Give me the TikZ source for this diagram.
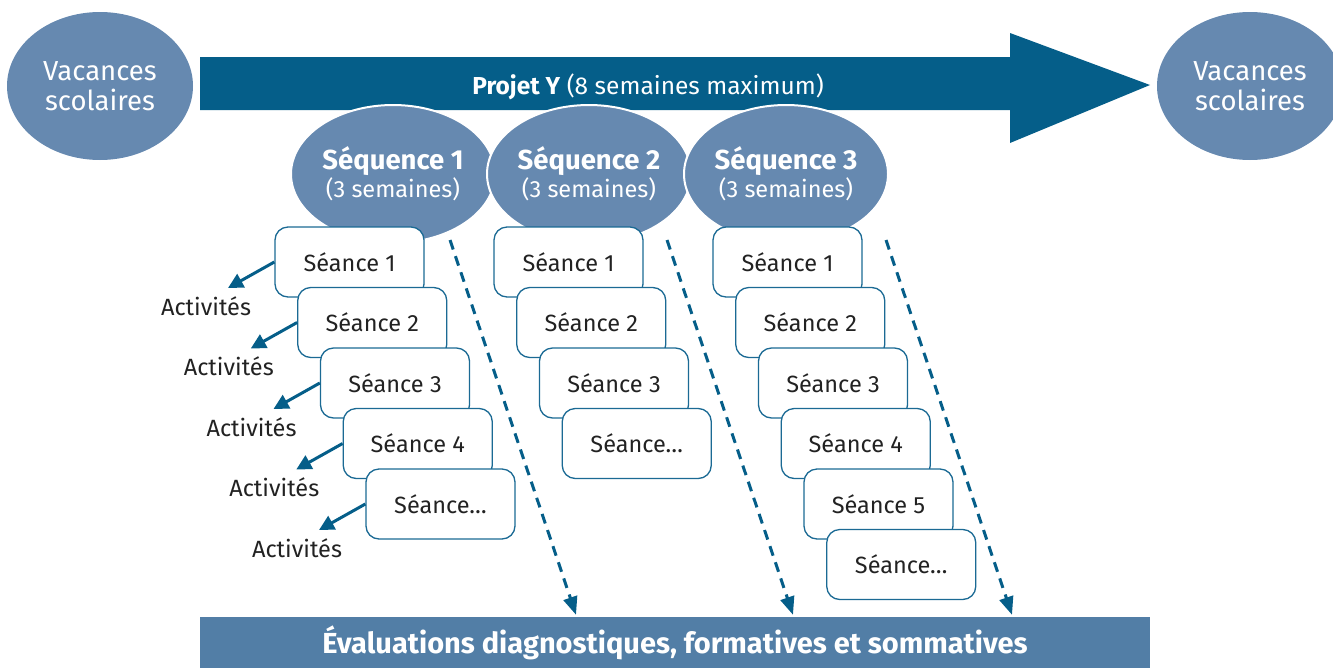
\documentclass[tikz,border=0pt]{standalone}
\usepackage{fontspec}
\setmainfont{Fira Sans}
\usetikzlibrary{shapes.geometric,arrows.meta,calc}
\definecolor{darkblue}{HTML}{055E89}
\definecolor{midblue}{HTML}{6689B0}
\definecolor{barblue}{HTML}{527EA6}
\definecolor{boxline}{HTML}{1B6A94}
\definecolor{txt}{HTML}{222222}
\tikzset{
  vac/.style={ellipse,fill=midblue,minimum width=186pt,minimum height=148pt,inner sep=0pt,text=white,align=center,font=\fontsize{27.5}{30}\selectfont},
  seq/.style={ellipse,fill=midblue,draw=white,line width=2pt,minimum width=204pt,minimum height=138pt,inner sep=0pt,text=white,align=center,font=\fontsize{23.5}{28}\selectfont},
  seance/.style={rectangle,rounded corners=13pt,draw=boxline,line width=1.3pt,fill=white,minimum width=149pt,minimum height=70pt,inner sep=0pt,text=txt,font=\fontsize{23.5}{26}\selectfont},
  act/.style={text=txt,font=\fontsize{23.5}{26}\selectfont,inner sep=0pt},
  actarrow/.style={draw=darkblue,line width=3pt,-{Triangle[length=15pt,width=15pt]}},
  dasharrow/.style={draw=darkblue,line width=3pt,dash pattern=on 10pt off 7pt,-{Triangle[length=18pt,width=14pt]}},
}
\begin{document}
\begin{tikzpicture}[x=1pt,y=-1pt]
\useasboundingbox (0,0) rectangle (1333,667);
% big arrow
\fill[darkblue] (200,57) -- (1010,57) -- (1010,33) -- (1150,85) -- (1010,143) -- (1010,110) -- (200,110) -- cycle;
\node[text=white,font=\fontsize{24.5}{28}\selectfont,inner sep=0pt] (projet) at (648,87) {\textbf{Projet Y} (8 semaines maximum)};
% vacances
\node[vac] (vacL) at (100,86) {Vacances\\scolaires};
\node[vac] (vacR) at (1250,86) {Vacances\\scolaires};
% sequences
\node[seq] (seq1) at (393,174) {\textbf{\fontsize{27.5}{30}\selectfont Séquence 1}\\(3 semaines)};
\node[seq] (seq2) at (589,174) {\textbf{\fontsize{27.5}{30}\selectfont Séquence 2}\\(3 semaines)};
\node[seq] (seq3) at (786,174) {\textbf{\fontsize{27.5}{30}\selectfont Séquence 3}\\(3 semaines)};
% eval bar
\node[rectangle,fill=barblue,minimum width=950pt,minimum height=52pt,inner sep=0pt,text=white,font=\bfseries\fontsize{29}{32}\selectfont] (eval) at (675,643) {Évaluations diagnostiques, formatives et sommatives};
% column 1
\foreach \i/\t in {1/Séance 1,2/Séance 2,3/Séance 3,4/Séance 4,5/Séance…}{
  \node[seance] (a\i) at ({349.5+22.75*(\i-1)},{262+60.5*(\i-1)}) {\t};
  \node[act] (act\i) at ({206+22.75*(\i-1)},{306+60.5*(\i-1)}) {Activités};
  \draw[actarrow] (a\i.west) -- ($(act\i.center)+(22,-18)$);
}
% column 2
\foreach \i/\t in {1/Séance 1,2/Séance 2,3/Séance 3,4/Séance…}{
  \node[seance] (b\i) at ({568.5+22.75*(\i-1)},{262+60.5*(\i-1)}) {\t};
}
% column 3
\foreach \i/\t in {1/Séance 1,2/Séance 2,3/Séance 3,4/Séance 4,5/Séance 5,6/Séance…}{
  \node[seance] (c\i) at ({787.5+22.75*(\i-1)},{262+60.5*(\i-1)}) {\t};
}
% dashed arrows
\coordinate (d1) at (450,240);
\coordinate (d2) at (667,240);
\coordinate (d3) at (886,240);
\draw[dasharrow] (d1) -- ([yshift=2pt]eval.north -| 576,0);
\draw[dasharrow] (d2) -- ([yshift=2pt]eval.north -| 793,0);
\draw[dasharrow] (d3) -- ([yshift=2pt]eval.north -| 1012,0);
\end{tikzpicture}
\end{document}
